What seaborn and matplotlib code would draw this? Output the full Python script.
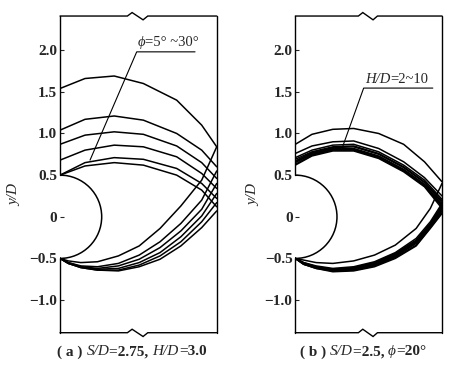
# Jet boundary outlines behind a half-cylinder, two cases side by side
# (a) S/D=2.75, H/D=3.0 with phi from 5 to 30 degrees
# (b) S/D=2.5, phi=20 degrees with H/D from 2 to 10

import matplotlib
matplotlib.use('Agg')
import matplotlib.pyplot as plt
from matplotlib.patches import Arc
from matplotlib.offsetbox import TextArea, HPacker, AnnotationBbox
import seaborn as sns

# ------------------------------------------------------------------
# Data (x/D, y/D)

# panel (a): upper edges, one per phi
a_x_up = [0, 0.3, 0.65, 1.0, 1.4, 1.7, 1.88]
a_upper = [
    [1.54, 1.66, 1.69, 1.60, 1.40, 1.10, 0.84],
    [1.04, 1.17, 1.21, 1.16, 1.00, 0.80, 0.60],
    [0.87, 0.98, 1.02, 0.99, 0.85, 0.65, 0.46],
    [0.68, 0.80, 0.86, 0.84, 0.72, 0.52, 0.34],
    [0.50, 0.65, 0.71, 0.69, 0.58, 0.40, 0.22],
    [0.50, 0.61, 0.65, 0.62, 0.50, 0.32, 0.12],
]
# panel (a): lower edges
a_x_low = [0, 0.1, 0.25, 0.45, 0.7, 0.95, 1.2, 1.45, 1.7, 1.88]
a_lower = [
    [-0.50, -0.53, -0.55, -0.54, -0.47, -0.35, -0.14, 0.13, 0.44, 0.84],
    [-0.50, -0.55, -0.59, -0.60, -0.56, -0.46, -0.30, -0.08, 0.20, 0.55],
    [-0.50, -0.55, -0.60, -0.62, -0.59, -0.51, -0.37, -0.17, 0.09, 0.40],
    [-0.50, -0.56, -0.60, -0.63, -0.62, -0.55, -0.43, -0.24, 0.01, 0.28],
    [-0.50, -0.56, -0.61, -0.64, -0.64, -0.58, -0.47, -0.30, -0.06, 0.17],
    [-0.50, -0.56, -0.61, -0.64, -0.65, -0.60, -0.51, -0.35, -0.13, 0.07],
]

# panel (b): upper edges, one per H/D
b_x_up = [0, 0.2, 0.45, 0.7, 1.0, 1.3, 1.55, 1.76]
b_upper = [
    [0.87, 0.99, 1.05, 1.06, 1.00, 0.87, 0.66, 0.42],
    [0.76, 0.85, 0.90, 0.91, 0.82, 0.66, 0.47, 0.25],
    [0.71, 0.80, 0.86, 0.87, 0.78, 0.62, 0.44, 0.21],
    [0.69, 0.78, 0.84, 0.85, 0.76, 0.60, 0.42, 0.19],
    [0.67, 0.77, 0.83, 0.84, 0.75, 0.59, 0.41, 0.17],
    [0.66, 0.76, 0.82, 0.82, 0.73, 0.57, 0.39, 0.15],
    [0.65, 0.75, 0.81, 0.81, 0.72, 0.56, 0.38, 0.14],
    [0.63, 0.74, 0.80, 0.80, 0.71, 0.55, 0.37, 0.12],
    [0.62, 0.73, 0.79, 0.79, 0.70, 0.54, 0.36, 0.10],
]
# panel (b): lower edges
b_x_low = [0, 0.1, 0.25, 0.45, 0.7, 0.95, 1.2, 1.45, 1.62, 1.76]
b_lower = [
    [-0.50, -0.52, -0.55, -0.56, -0.53, -0.46, -0.34, -0.14, 0.10, 0.40],
    [-0.50, -0.55, -0.59, -0.62, -0.60, -0.54, -0.43, -0.26, -0.06, 0.16],
    [-0.50, -0.55, -0.60, -0.63, -0.61, -0.55, -0.44, -0.28, -0.08, 0.14],
    [-0.50, -0.56, -0.60, -0.63, -0.62, -0.56, -0.45, -0.29, -0.09, 0.12],
    [-0.50, -0.56, -0.61, -0.64, -0.62, -0.57, -0.46, -0.30, -0.10, 0.10],
    [-0.50, -0.56, -0.61, -0.64, -0.63, -0.58, -0.47, -0.31, -0.11, 0.09],
    [-0.50, -0.57, -0.61, -0.65, -0.64, -0.58, -0.48, -0.32, -0.12, 0.07],
    [-0.50, -0.57, -0.62, -0.65, -0.64, -0.59, -0.49, -0.34, -0.13, 0.05],
    [-0.50, -0.57, -0.62, -0.66, -0.65, -0.60, -0.50, -0.35, -0.14, 0.04],
]

y_ticks = [-1.0, -0.5, 0, 0.5, 1.0, 1.5, 2.0]
y_ticklabels = ['\u22121.0', '\u22120.5', '0', '0.5', '1.0', '1.5', '2.0']

# ------------------------------------------------------------------
sns.set_style('ticks')
serif = ['Liberation Serif', 'DejaVu Serif']
plt.rcParams['font.family'] = serif

FS = 11
YLIM = (-1.392, 2.41)


def rich(ax, xy, parts, coords, align, size=FS):
    # several text pieces in different styles, laid out on one baseline
    areas = [TextArea(s, textprops=dict(family=serif, style=st, weight=w, size=size))
             for s, st, w in parts]
    box = HPacker(children=areas, align='baseline', pad=0, sep=0)
    ab = AnnotationBbox(box, xy, xycoords=coords, frameon=False,
                        box_alignment=align, pad=0, annotation_clip=False)
    ax.add_artist(ab)


def frame(ax, xmax):
    # hand drawn frame: broken top/bottom, left side cut by the cylinder
    for s in ax.spines.values():
        s.set_visible(False)
    kw = dict(color='black', lw=1.0, clip_on=False, solid_joinstyle='miter')
    ax.plot([1, 1], [0, 1], transform=ax.transAxes, **kw)
    ax.plot([0, 0.43, 0.46, 0.53, 0.56, 1], [1, 1, 1.011, 0.988, 1, 1],
            transform=ax.transAxes, **kw)
    ax.plot([0, 0.43, 0.46, 0.53, 0.56, 1], [0, 0, 0.011, -0.012, 0, 0],
            transform=ax.transAxes, **kw)
    ax.plot([0, 0], [0.5, YLIM[1]], transform=ax.get_yaxis_transform(), **kw)
    ax.plot([0, 0], [-0.5, YLIM[0]], transform=ax.get_yaxis_transform(), **kw)
    # the half cylinder
    ax.add_patch(Arc((0, 0), 1.0, 1.0, theta1=-90, theta2=90, color='black', lw=1.1))
    ax.set_xlim(0, xmax)
    ax.set_ylim(*YLIM)
    ax.set_xticks([])
    ax.set_yticks(y_ticks)
    ax.set_yticklabels(y_ticklabels, fontweight='bold', fontsize=FS)
    ax.tick_params(axis='y', direction='in', length=3, width=0.8, pad=2)
    ax.set_xlabel('')
    ax.set_ylabel('')


def curves(ax, xs, ys_list):
    for ys in ys_list:
        sns.lineplot(x=xs, y=ys, sort=False, estimator=None, color='black',
                     lw=1.1, ax=ax)


fig = plt.figure(figsize=(4.53, 3.72), dpi=100)
ax_a = fig.add_axes([0.1325, 0.1056, 0.3459, 0.8513])
ax_b = fig.add_axes([0.6519, 0.1056, 0.3238, 0.8513])

# Panel (a)
curves(ax_a, a_x_up, a_upper)
curves(ax_a, a_x_low, a_lower)
frame(ax_a, 1.88)
ax_a.plot([0.36, 0.92, 1.62], [0.68, 1.98, 1.98], color='black', lw=0.8)
rich(ax_a, (0.93, 2.01), [('\u03d5', 'italic', 'normal'), ('=5\u00b0 ~30\u00b0', 'normal', 'normal')],
     'data', (0, 0), size=10.5)

# Panel (b)
curves(ax_b, b_x_up, b_upper)
curves(ax_b, b_x_low, b_lower)
frame(ax_b, 1.76)
ax_b.plot([0.56, 0.82, 1.65], [0.82, 1.545, 1.545], color='black', lw=0.8)
rich(ax_b, (0.84, 1.575), [('H/D', 'italic', 'normal'), ('=2~10', 'normal', 'normal')],
     'data', (0, 0), size=10.5)

# y labels
fig.text(0.033, 0.476, 'y/D', rotation=90, ha='center', va='center',
         fontstyle='italic', fontsize=FS)
fig.text(0.561, 0.476, 'y/D', rotation=90, ha='center', va='center',
         fontstyle='italic', fontsize=FS)

# captions under each panel
rich(ax_a, (0.291, 0.054), [('( a ) ', 'normal', 'bold'), ('S/D', 'italic', 'normal'),
                            ('=2.75, ', 'normal', 'bold'), ('H/D', 'italic', 'normal'),
                            ('=3.0', 'normal', 'bold')],
     'figure fraction', (0.5, 0.5))
rich(ax_b, (0.801, 0.054), [('( b ) ', 'normal', 'bold'), ('S/D', 'italic', 'normal'),
                            ('=2.5, ', 'normal', 'bold'), ('\u03d5', 'italic', 'normal'),
                            ('=20\u00b0', 'normal', 'bold')],
     'figure fraction', (0.5, 0.5))

fig.savefig('out.png', dpi=100)
